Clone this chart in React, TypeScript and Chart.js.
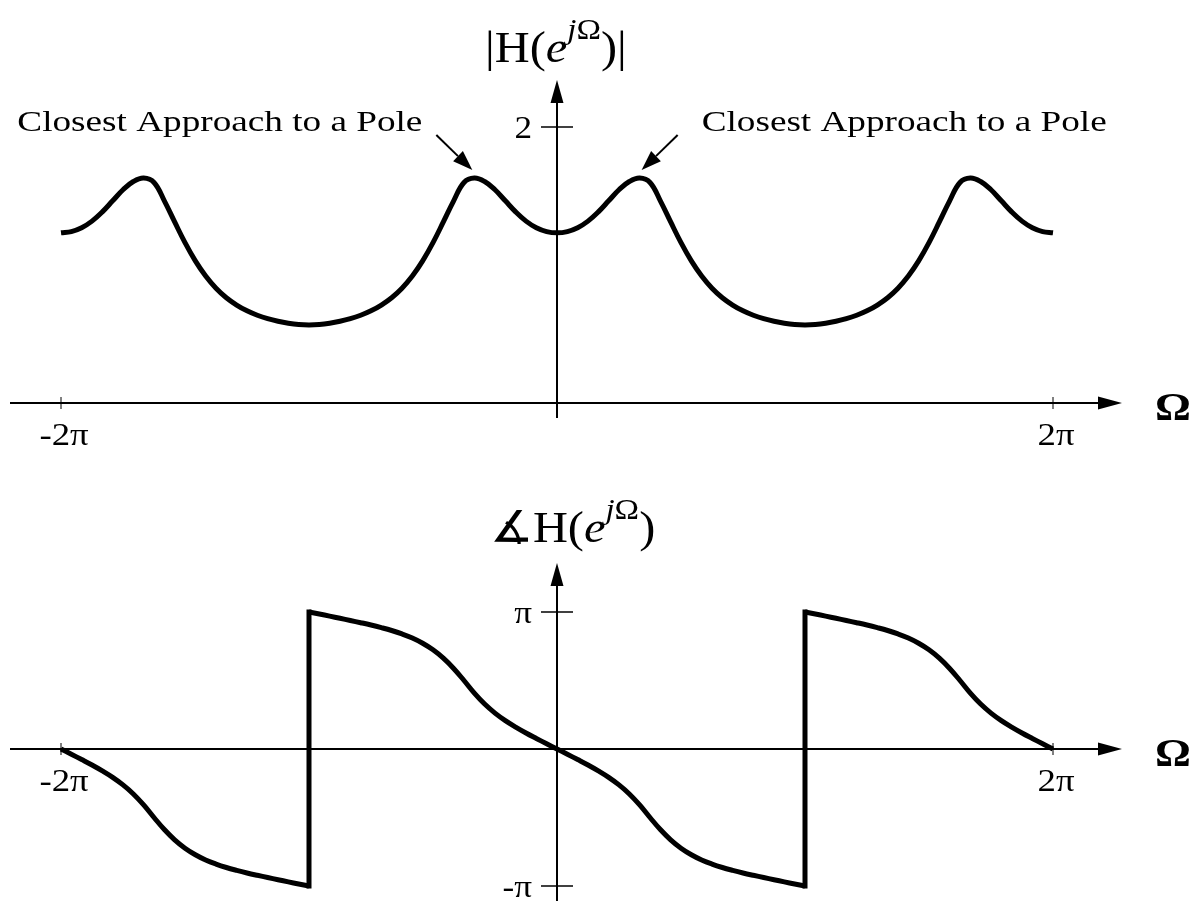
import React, { useEffect, useRef } from "react";
import { Chart, registerables } from "chart.js";

Chart.register(...registerables);

// Normalised frequency Ω/π, sampled every π/24 from -2π to 2π
const OMEGA = [
  -2, -1.9583, -1.9167, -1.875, -1.8333, -1.7917, -1.75, -1.7083, -1.6667, -1.625, -1.5833, -1.5417,
  -1.5, -1.4583, -1.4167, -1.375, -1.3333, -1.2917, -1.25, -1.2083, -1.1667, -1.125, -1.0833, -1.0417,
  -1, -0.9583, -0.9167, -0.875, -0.8333, -0.7917, -0.75, -0.7083, -0.6667, -0.625, -0.5833, -0.5417,
  -0.5, -0.4583, -0.4167, -0.375, -0.3333, -0.2917, -0.25, -0.2083, -0.1667, -0.125, -0.0833, -0.0417,
  0, 0.0417, 0.0833, 0.125, 0.1667, 0.2083, 0.25, 0.2917, 0.3333, 0.375, 0.4167, 0.4583,
  0.5, 0.5417, 0.5833, 0.625, 0.6667, 0.7083, 0.75, 0.7917, 0.8333, 0.875, 0.9167, 0.9583,
  1, 1.0417, 1.0833, 1.125, 1.1667, 1.2083, 1.25, 1.2917, 1.3333, 1.375, 1.4167, 1.4583,
  1.5, 1.5417, 1.5833, 1.625, 1.6667, 1.7083, 1.75, 1.7917, 1.8333, 1.875, 1.9167, 1.9583, 2,
];

// |H(e^jΩ)| on the OMEGA grid
const MAGNITUDE = [
  1.233, 1.242, 1.27, 1.318, 1.385, 1.465, 1.545, 1.605, 1.63, 1.598, 1.465, 1.312, 1.162, 1.03, 0.92,
  0.832, 0.763, 0.71, 0.668, 0.636, 0.611, 0.592, 0.578, 0.569, 0.566,
  0.569, 0.578, 0.592, 0.611, 0.636, 0.668, 0.71, 0.763, 0.832, 0.92, 1.03, 1.162, 1.312, 1.465, 1.598,
  1.63, 1.605, 1.545, 1.465, 1.385, 1.318, 1.27, 1.242, 1.233,
  1.242, 1.27, 1.318, 1.385, 1.465, 1.545, 1.605, 1.63, 1.598, 1.465, 1.312, 1.162, 1.03, 0.92,
  0.832, 0.763, 0.71, 0.668, 0.636, 0.611, 0.592, 0.578, 0.569, 0.566,
  0.569, 0.578, 0.592, 0.611, 0.636, 0.668, 0.71, 0.763, 0.832, 0.92, 1.03, 1.162, 1.312, 1.465, 1.598,
  1.63, 1.605, 1.545, 1.465, 1.385, 1.318, 1.27, 1.242, 1.233,
];

// ∡H(e^jΩ) in units of π, one branch per interval: [-2π,-π], [-π,π], [π,2π]
const PHASE_A = [
  0, -0.038, -0.077, -0.117, -0.16, -0.207, -0.262, -0.328, -0.408, -0.5, -0.588, -0.663, -0.724,
  -0.772, -0.81, -0.84, -0.865, -0.886, -0.905, -0.922, -0.938, -0.954, -0.97, -0.985, -1,
];
const PHASE_B = [
  1, 0.985, 0.97, 0.954, 0.938, 0.922, 0.905, 0.886, 0.865, 0.84, 0.81, 0.772, 0.724, 0.663, 0.588,
  0.5, 0.408, 0.328, 0.262, 0.207, 0.16, 0.117, 0.077, 0.038, 0,
  -0.038, -0.077, -0.117, -0.16, -0.207, -0.262, -0.328, -0.408, -0.5, -0.588, -0.663, -0.724,
  -0.772, -0.81, -0.84, -0.865, -0.886, -0.905, -0.922, -0.938, -0.954, -0.97, -0.985, -1,
];
const PHASE_C = [
  1, 0.985, 0.97, 0.954, 0.938, 0.922, 0.905, 0.886, 0.865, 0.84, 0.81, 0.772, 0.724, 0.663, 0.588,
  0.5, 0.408, 0.328, 0.262, 0.207, 0.16, 0.117, 0.077, 0.038, 0,
];

const X_TICKS = [-2, 2];
const X_TICK_LABELS = ["-2π", "2π"];
const MAG_TICKS = [2];
const MAG_TICK_LABELS = ["2"];
const PHASE_TICKS = [1, -1];
const PHASE_TICK_LABELS = ["π", "-π"];
const POLE_PEAKS = [-0.3333, 0.3333];
const POLE_NOTE = "Closest Approach to a Pole";

const SERIF = "'Liberation Serif', 'Times New Roman', 'DejaVu Serif', serif";
const INK = "#000";
const WIDTH = 1193;
const AXIS_LEFT = 10;
const AXIS_TIP = 1122;

type Part = { text: string; size: number; style?: string; rise?: number };

function drawStretched(
  ctx: CanvasRenderingContext2D,
  text: string,
  x: number,
  y: number,
  font: string,
  align: CanvasTextAlign,
  sx: number
) {
  ctx.save();
  ctx.font = font;
  ctx.textAlign = align;
  ctx.textBaseline = "alphabetic";
  ctx.translate(x, y);
  ctx.scale(sx, 1);
  ctx.fillText(text, 0, 0);
  ctx.restore();
}

function drawParts(ctx: CanvasRenderingContext2D, parts: Part[], x: number, y: number, sx: number) {
  let cx = x;
  for (const p of parts) {
    ctx.save();
    ctx.font = `${p.style ?? ""} ${p.size}px ${SERIF}`.trim();
    ctx.textAlign = "left";
    ctx.textBaseline = "alphabetic";
    const w = ctx.measureText(p.text).width;
    ctx.translate(cx, y - (p.rise ?? 0));
    ctx.scale(sx, 1);
    ctx.fillText(p.text, 0, 0);
    ctx.restore();
    cx += w * sx;
  }
}

function drawArrow(
  ctx: CanvasRenderingContext2D,
  x1: number,
  y1: number,
  x2: number,
  y2: number,
  headLen: number,
  headHalf: number,
  width: number
) {
  const a = Math.atan2(y2 - y1, x2 - x1);
  const bx = x2 - headLen * Math.cos(a);
  const by = y2 - headLen * Math.sin(a);
  ctx.lineWidth = width;
  ctx.beginPath();
  ctx.moveTo(x1, y1);
  ctx.lineTo(bx, by);
  ctx.stroke();
  ctx.beginPath();
  ctx.moveTo(x2, y2);
  ctx.lineTo(bx + headHalf * Math.sin(a), by - headHalf * Math.cos(a));
  ctx.lineTo(bx - headHalf * Math.sin(a), by + headHalf * Math.cos(a));
  ctx.closePath();
  ctx.fill();
}

function segment(ctx: CanvasRenderingContext2D, x1: number, y1: number, x2: number, y2: number) {
  ctx.beginPath();
  ctx.moveTo(x1, y1);
  ctx.lineTo(x2, y2);
  ctx.stroke();
}

interface AxisLook {
  id: string;
  yTop: number;
  yBottom: number;
  yTicks: number[];
  yTickLabels: string[];
  title: Part[];
  titleX: number;
  titleY: number;
}

function axesPlugin(look: AxisLook) {
  return {
    id: look.id,
    beforeDatasetsDraw(chart: Chart) {
      const ctx = chart.ctx;
      const xs = chart.scales.x;
      const ys = chart.scales.y;
      const ox = xs.getPixelForValue(0);
      const oy = ys.getPixelForValue(0);
      ctx.save();
      ctx.strokeStyle = INK;
      ctx.fillStyle = INK;
      drawArrow(ctx, AXIS_LEFT, oy, AXIS_TIP, oy, 24, 6.5, 2);
      drawArrow(ctx, ox, look.yBottom, ox, look.yTop, 23, 6.5, 2);

      ctx.lineWidth = 1.5;
      look.yTicks.forEach((v, i) => {
        const py = ys.getPixelForValue(v);
        segment(ctx, ox - 16, py, ox + 16, py);
        drawStretched(ctx, look.yTickLabels[i], ox - 25, py + 11, `32px ${SERIF}`, "right", 1.1);
      });

      ctx.lineWidth = 1;
      X_TICKS.forEach((v, i) => {
        const px = xs.getPixelForValue(v);
        segment(ctx, px, oy - 6, px, oy + 6);
        drawStretched(ctx, X_TICK_LABELS[i], px + 3, oy + 42, `32px ${SERIF}`, "center", 1.15);
      });

      drawStretched(ctx, "Ω", 1155, oy + 17, `bold 40px ${SERIF}`, "left", 1.12);
      drawParts(ctx, look.title, look.titleX, look.titleY, 1.1);
      ctx.restore();
    },
  };
}

const poleNotes = {
  id: "poleNotes",
  afterDatasetsDraw(chart: Chart) {
    const ctx = chart.ctx;
    const xs = chart.scales.x;
    const ys = chart.scales.y;
    ctx.save();
    ctx.strokeStyle = INK;
    ctx.fillStyle = INK;
    POLE_PEAKS.forEach((w) => {
      const i = OMEGA.indexOf(w);
      const px = xs.getPixelForValue(w);
      const py = ys.getPixelForValue(MAGNITUDE[i]);
      const dir = w < 0 ? -1 : 1;
      const tipX = px + dir * 2;
      const tipY = py - 8;
      const tailX = tipX + dir * 36;
      const tailY = tipY - 35;
      drawArrow(ctx, tailX, tailY, tipX, tipY, 20, 7, 2);
      if (dir < 0) {
        drawStretched(ctx, POLE_NOTE, tailX - 14, tailY - 4, `30px ${SERIF}`, "right", 1.24);
      } else {
        drawStretched(ctx, POLE_NOTE, tailX + 24, tailY - 4, `30px ${SERIF}`, "left", 1.24);
      }
    });
    ctx.restore();
  },
};

const MAG_TITLE: Part[] = [
  { text: "|H(", size: 44 },
  { text: "e", size: 44, style: "italic" },
  { text: "j", size: 30, style: "italic", rise: 23 },
  { text: "Ω", size: 30, rise: 23 },
  { text: ")|", size: 44 },
];

const PHASE_TITLE: Part[] = [
  { text: "∡H(", size: 44 },
  { text: "e", size: 44, style: "italic" },
  { text: "j", size: 30, style: "italic", rise: 23 },
  { text: "Ω", size: 30, rise: 23 },
  { text: ")", size: 44 },
];

const curve = (data: { x: number; y: number }[], extra: Record<string, unknown> = {}) => ({
  data,
  borderColor: INK,
  borderWidth: 5,
  pointRadius: 0,
  tension: 0.4,
  fill: false,
  clip: false,
  ...extra,
});

export default function App() {
  const magRef = useRef<HTMLCanvasElement>(null);
  const phaseRef = useRef<HTMLCanvasElement>(null);

  useEffect(() => {
    if (!magRef.current || !phaseRef.current) return;

    const magPoints = OMEGA.map((x, i) => ({ x, y: MAGNITUDE[i] }));
    const branchA = PHASE_A.map((y, i) => ({ x: OMEGA[i], y }));
    const branchB = PHASE_B.map((y, i) => ({ x: OMEGA[i + 24], y }));
    const branchC = PHASE_C.map((y, i) => ({ x: OMEGA[i + 72], y }));
    // vertical wraps of the phase where one branch ends and the next begins
    const wrapLeft = [branchA[branchA.length - 1], branchB[0]];
    const wrapRight = [branchB[branchB.length - 1], branchC[0]];

    const magChart = new Chart(magRef.current, {
      type: "line",
      data: { datasets: [curve(magPoints)] },
      options: {
        animation: false,
        responsive: false,
        events: [],
        layout: { padding: { left: 61, right: 140, top: 127, bottom: 47 } },
        plugins: { legend: { display: false }, tooltip: { enabled: false } },
        scales: {
          x: { type: "linear", min: -2, max: 2, display: false },
          y: { type: "linear", min: 0, max: 2, display: false },
        },
      },
      plugins: [
        axesPlugin({
          id: "magAxes",
          yTop: 80,
          yBottom: 418,
          yTicks: MAG_TICKS,
          yTickLabels: MAG_TICK_LABELS,
          title: MAG_TITLE,
          titleX: 485,
          titleY: 62,
        }),
        poleNotes,
      ],
    } as any);

    const phaseChart = new Chart(phaseRef.current, {
      type: "line",
      data: {
        datasets: [
          curve(branchA),
          curve(wrapLeft, { tension: 0, borderCapStyle: "square" }),
          curve(branchB),
          curve(wrapRight, { tension: 0, borderCapStyle: "square" }),
          curve(branchC),
        ],
      },
      options: {
        animation: false,
        responsive: false,
        events: [],
        layout: { padding: { left: 61, right: 140, top: 162, bottom: 15 } },
        plugins: { legend: { display: false }, tooltip: { enabled: false } },
        scales: {
          x: { type: "linear", min: -2, max: 2, display: false },
          y: { type: "linear", min: -1, max: 1, display: false },
        },
      },
      plugins: [
        axesPlugin({
          id: "phaseAxes",
          yTop: 113,
          yBottom: 451,
          yTicks: PHASE_TICKS,
          yTickLabels: PHASE_TICK_LABELS,
          title: PHASE_TITLE,
          titleX: 490,
          titleY: 92,
        }),
      ],
    } as any);

    return () => {
      magChart.destroy();
      phaseChart.destroy();
    };
  }, []);

  return (
    <div style={{ position: "fixed", left: 0, top: 0, width: WIDTH, height: 901, background: "#fff" }}>
      <canvas ref={magRef} width={WIDTH} height={450} style={{ display: "block" }} />
      <canvas ref={phaseRef} width={WIDTH} height={451} style={{ display: "block" }} />
    </div>
  );
}
